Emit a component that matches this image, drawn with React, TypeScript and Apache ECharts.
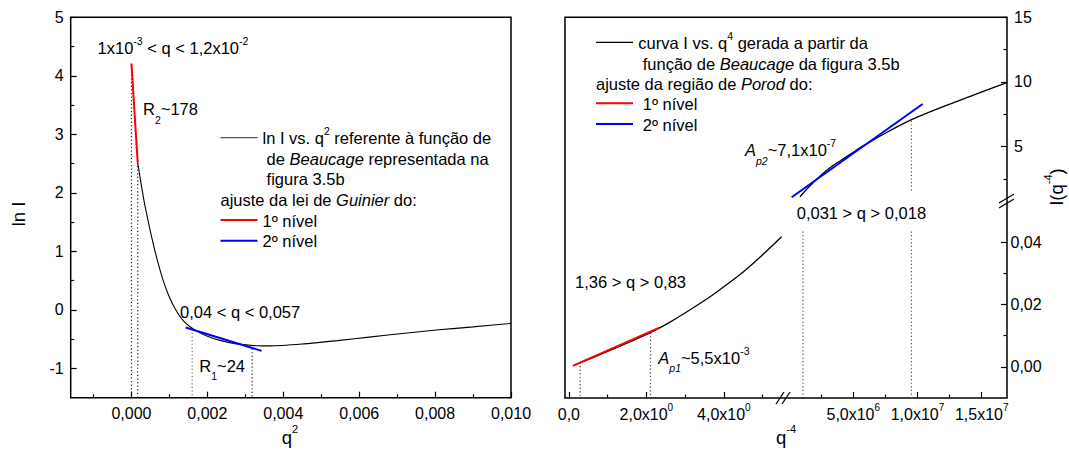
import React, { useEffect, useRef } from "react";
import * as echarts from "echarts";

const FONT = "'Liberation Sans', Arial, Helvetica, sans-serif";

// ---- Guinier plot: ln I vs q² ----
const guinierQ2 = [0.000165, 0.000238, 0.000327, 0.000434, 0.000549, 0.000682, 0.000833, 0.000993, 0.00117, 0.00139, 0.00166, 0.00197, 0.00233, 0.00277, 0.0033, 0.00366, 0.00455, 0.00543, 0.00632, 0.0072, 0.0081, 0.009, 0.01];
const guinierLnI = [2.52, 2.22, 1.88, 1.54, 1.2, 0.85, 0.51, 0.23, 0.0, -0.2, -0.34, -0.44, -0.52, -0.58, -0.612, -0.615, -0.58, -0.525, -0.46, -0.4, -0.34, -0.29, -0.23];
const guinierLevel1Q2 = [0.000001, 0.000165];
const guinierLevel1LnI = [4.21, 2.52];
const guinierLevel2Q2 = [0.00143, 0.00343];
const guinierLevel2LnI = [-0.3, -0.7];
const guinierBoundQ2 = [0.000001, 0.000165, 0.0016, 0.00318];
const guinierBoundTop = [4.2, 2.52, -0.33, -0.66];
const guinierBoundColor = ["#222", "#222", "#777", "#222"];

const guinierXTicks = [0, 0.002, 0.004, 0.006, 0.008, 0.01];
const guinierXMinor = [-0.001, 0.001, 0.003, 0.005, 0.007, 0.009];
const guinierYTicks = [-1, 0, 1, 2, 3, 4, 5];
const guinierYMinor = [-0.5, 0.5, 1.5, 2.5, 3.5, 4.5];

// ---- Porod plot: I vs q⁻⁴ (broken axes) ----
const porodLowX = [0.28, 0.7, 1.2, 1.7, 2.085, 2.6, 3.2, 3.7, 4.07, 4.5, 4.93, 5.49];
const porodLowY = [0.0013, 0.0034, 0.006, 0.0087, 0.0109, 0.0143, 0.0189, 0.023, 0.0264, 0.0305, 0.0352, 0.0418];
const porodLevel1X = [0.1, 2.32];
const porodLevel1Y = [0.0003, 0.01254];
const porodHighX = [0.85e6, 1.5e6, 2.66e6, 3.5e6, 4.49e6, 5.5e6, 6.56e6, 7.6e6, 8.6e6, 9.67e6, 11.75e6, 14e6, 16.95e6];
const porodHighY = [1.13, 1.85, 2.94, 3.6, 4.23, 4.9, 5.52, 6.1, 6.63, 7.15, 8.0, 8.85, 9.95];
const porodLevel2X = [0.2e6, 10.4e6];
const porodLevel2Y = [1.09, 8.3];
const porodLowBoundX = [0.292, 2.107];
const porodLowBoundTop = [0.0014, 0.011];
const porodHighBoundX = [1.083e6, 9.53e6];

const lowXTicks = [0, 2, 4];
const lowXMinor = [1, 3, 5];
const highXTicks = [5e6, 1e7, 1.5e7];
const highXMinor = [2.5e6, 7.5e6, 1.25e7];
const lowYTicks = [0, 0.02, 0.04];
const lowYMinor = [0.01, 0.03];
const highYTicks = [5, 10, 15];
const highYMinor = [2.5, 7.5, 12.5];

const zip = (xs: number[], ys: number[]) => xs.map((x, i) => [x, ys[i]]);
const comma = (v: number, d: number) => v.toFixed(d).replace(".", ",");
const sci = (v: number) => {
  if (v === 0) return "{n|0,0}";
  const e = Math.floor(Math.log10(Math.abs(v)) + 1e-9);
  return `{n|${comma(v / Math.pow(10, e), 1)}x10}{s|${e}}`;
};

const tickRich = {
  n: { fontSize: 16, fontFamily: FONT, color: "#000", lineHeight: 24 },
  s: { fontSize: 10, fontFamily: FONT, color: "#000", lineHeight: 24, height: 10, verticalAlign: "top" },
};
const TICK = { color: "#000", width: 1.2 };

function axisPair(gridIndex: number, min: number, max: number, major: number[], minor: number[], formatter: (v: number) => string, position: string, margin: number) {
  const common = {
    type: "value", gridIndex, min, max, position,
    splitLine: { show: false },
    axisLine: { show: false, onZero: false },
  };
  return [
    {
      ...common,
      axisTick: { show: true, inside: true, length: 6, lineStyle: TICK, customValues: major },
      axisLabel: { show: true, customValues: major, formatter: (v: number) => formatter(v), margin, color: "#000", fontFamily: FONT, fontSize: 16, lineHeight: 24, rich: tickRich },
    },
    {
      ...common,
      axisTick: { show: true, inside: true, length: 3.5, lineStyle: TICK, customValues: minor },
      axisLabel: { show: false },
    },
  ];
}
const hidden = (gridIndex: number, min: number, max: number) => ({ type: "value", gridIndex, min, max, show: false, axisLine: { onZero: false } });

// axis ranges
const G_X: [number, number] = [-0.0016, 0.01];
const G_Y: [number, number] = [-1.5, 5];
const LOW_X: [number, number] = [-0.1, 5.5];
const HIGH_X: [number, number] = [-0.55e6, 16.97e6];
const LOW_Y: [number, number] = [-0.01, 0.0536];
const HIGH_Y: [number, number] = [0.88, 15];

// axis indices: x → 0/1 Guinier, 2/3 low q⁻⁴, 4/5 high q⁻⁴ (lower), 6 high q⁻⁴ (upper), 7 frame
//               y → 0/1 Guinier, 2 low I (left seg), 3/4 low I (right seg), 5/6 high I, 7 frame
const line = (xi: number, yi: number, data: number[][], color: string, width: number, extra: any = {}) => ({
  type: "line", xAxisIndex: xi, yAxisIndex: yi, data, symbol: "none", showSymbol: false, silent: true,
  lineStyle: { color, width, ...(extra.lineStyle || {}) }, itemStyle: { color },
  smooth: extra.smooth || false, z: extra.z || 3,
});
const dotted = (xi: number, yi: number, x: number, y0: number, y1: number, color = "#333") =>
  line(xi, yi, [[x, y0], [x, y1]], color, 1.2, { lineStyle: { type: [1.2, 2.4] }, z: 2 });

// annotation text styles
const annRich = {
  b: { fontSize: 16.5, fontFamily: FONT, fill: "#000", lineHeight: 32 },
  i: { fontSize: 16.5, fontFamily: FONT, fontStyle: "italic", fill: "#000", lineHeight: 32 },
  sup: { fontSize: 10.5, fontFamily: FONT, fill: "#000", lineHeight: 32, height: 18, verticalAlign: "top" },
  sub: { fontSize: 10.5, fontFamily: FONT, fill: "#000", lineHeight: 32, verticalAlign: "bottom" },
  subi: { fontSize: 10.5, fontFamily: FONT, fontStyle: "italic", fill: "#000", lineHeight: 32, verticalAlign: "bottom" },
  t: { fontSize: 18.5, fontFamily: FONT, fill: "#000", lineHeight: 32 },
  ts: { fontSize: 11, fontFamily: FONT, fill: "#000", lineHeight: 32, height: 16, verticalAlign: "top" },
};
const txt = (x: number, y: number, text: string, align = "left", rotation = 0) => ({
  type: "text", x, y, rotation, silent: true, z: 10,
  style: { text, x: 0, y: 0, align, verticalAlign: "middle", rich: annRich, fontFamily: FONT, fontSize: 16.5, fill: "#000" },
});
const seg = (x1: number, y1: number, x2: number, y2: number, stroke: string, lineWidth: number) => ({
  type: "line", silent: true, z: 10, shape: { x1, y1, x2, y2 }, style: { stroke, lineWidth },
});

const xAxes = [
  ...axisPair(0, G_X[0], G_X[1], guinierXTicks, guinierXMinor, (v) => `{n|${comma(v, 3)}}`, "bottom", 4),
  ...axisPair(1, LOW_X[0], LOW_X[1], lowXTicks, lowXMinor, sci, "bottom", 4),
  ...axisPair(2, HIGH_X[0], HIGH_X[1], highXTicks, highXMinor, sci, "bottom", 4),
  hidden(3, HIGH_X[0], HIGH_X[1]),
  hidden(4, 0, 1),
];
const yAxes = [
  ...axisPair(0, G_Y[0], G_Y[1], guinierYTicks, guinierYMinor, (v) => `{n|${v}}`, "left", 7),
  hidden(1, LOW_Y[0], LOW_Y[1]),
  ...axisPair(2, LOW_Y[0], LOW_Y[1], lowYTicks, lowYMinor, (v) => `{n|${comma(v, 2)}}`, "right", 3.5),
  ...axisPair(3, HIGH_Y[0], HIGH_Y[1], highYTicks, highYMinor, (v) => `{n|${v}}`, "right", 7),
  hidden(4, 0, 1),
];

const FRAME = { show: true, borderColor: "#000", borderWidth: 1.5, backgroundColor: "transparent" };

const option: any = {
  animation: false,
  backgroundColor: "#fff",
  grid: [
    { left: 70.7, top: 17.3, width: 440.3, height: 380.4, ...FRAME },
    { left: 565, top: 200, width: 217, height: 198 },
    { left: 782, top: 200, width: 225, height: 198 },
    { left: 782, top: 17.3, width: 225, height: 182.7 },
    { left: 565, top: 17.3, width: 442, height: 380.7, ...FRAME },
  ],
  xAxis: xAxes,
  yAxis: yAxes,
  series: [
    // Guinier panel
    ...guinierBoundQ2.map((q, i) => dotted(0, 0, q, guinierBoundTop[i], G_Y[0], guinierBoundColor[i])),
    line(0, 0, zip(guinierQ2, guinierLnI), "#000", 1.1, { smooth: 0.25 }),
    line(0, 0, zip(guinierLevel1Q2, guinierLevel1LnI), "#ff0000", 2, { z: 4 }),
    line(0, 0, zip(guinierLevel2Q2, guinierLevel2LnI), "#0000ff", 2, { z: 4 }),
    // Porod panel, low q⁻⁴ segment
    ...porodLowBoundX.map((x, i) => dotted(2, 2, x, porodLowBoundTop[i], LOW_Y[0], "#444")),
    line(2, 2, zip(porodLowX, porodLowY), "#000", 1.3, { smooth: 0.3 }),
    line(2, 2, zip(porodLevel1X, porodLevel1Y), "#ff0000", 2, { z: 4 }),
    // Porod panel, high q⁻⁴ segment
    ...porodHighBoundX.map((x) => dotted(4, 3, x, 0.0435, LOW_Y[0], "#555")),
    dotted(6, 5, porodHighBoundX[1], 7.0, 1.5, "#555"),
    line(6, 5, zip(porodHighX, porodHighY), "#000", 1.3, { smooth: 0.3 }),
    line(6, 5, zip(porodLevel2X, porodLevel2Y), "#0000ff", 2, { z: 4 }),
  ],
  graphic: [
    // Guinier annotations
    txt(97.6, 47.5, "{b|1x10}{sup|-3}{b| < q < 1,2x10}{sup|-2}"),
    txt(143, 109, "{b|R}{sub|2}{b|~178}"),
    seg(220.5, 137.7, 257.5, 137.7, "#555", 1.3),
    txt(262.5, 138, "{b|ln I vs. q}{sup|2}{b| referente à função de}"),
    txt(266.6, 158.5, "{b|de }{i|Beaucage}{b| representada na}"),
    txt(266.6, 179, "{b|figura 3.5b}"),
    txt(220.5, 200, "{b|ajuste da lei de }{i|Guinier}{b| do:}"),
    seg(220.5, 220, 257.5, 220, "#ff0000", 2),
    txt(262.5, 220.5, "{b|1º nível}"),
    seg(220.5, 240.7, 257.5, 240.7, "#0000ff", 2),
    txt(262.5, 241, "{b|2º nível}"),
    txt(180, 311.7, "{b|0,04 < q < 0,057}"),
    txt(199.3, 365.7, "{b|R}{sub|1}{b|~24}"),
    txt(18, 214, "{t|ln I}", "center", Math.PI / 2),
    txt(290, 437, "{t|q}{ts|2}", "center"),
    // Porod annotations
    seg(596, 42.3, 633, 42.3, "#000", 1.3),
    txt(638.3, 42.5, "{b|curva I vs. q}{sup|4}{b| gerada a partir da}"),
    txt(642.7, 63.5, "{b|função de }{i|Beaucage}{b| da figura 3.5b}"),
    txt(596, 84, "{b|ajuste da região de }{i|Porod}{b| do:}"),
    seg(596, 103.3, 633, 103.3, "#ff0000", 2),
    txt(642.7, 104, "{b|1º nível}"),
    seg(596, 124, 633, 124, "#0000ff", 2),
    txt(642.7, 124.5, "{b|2º nível}"),
    txt(745, 150, "{i|A}{subi|p2}{b|~7,1x10}{sup|-7}"),
    txt(796.7, 213.3, "{b|0,031 > q > 0,018}"),
    txt(575, 282.3, "{b|1,36 > q > 0,83}"),
    txt(658.3, 357.5, "{i|A}{subi|p1}{b|~5,5x10}{sup|-3}"),
    txt(786, 437, "{t|q}{ts|-4}", "center"),
    txt(1056, 187, "{t|I(q}{ts|-4}{t|)}", "center", Math.PI / 2),
    // axis break marks
    seg(776, 404, 784, 392, "#000", 1.3),
    seg(782, 404, 790, 392, "#000", 1.3),
    seg(999, 203, 1014, 194, "#000", 1.3),
    seg(999, 208, 1014, 199, "#000", 1.3),
  ],
};

export default function App() {
  const ref = useRef<HTMLDivElement>(null);
  useEffect(() => {
    const chart = echarts.init(ref.current!, null, { renderer: "svg" });
    chart.setOption(option);
    return () => chart.dispose();
  }, []);
  return (
    <div
      ref={ref}
      style={{ position: "absolute", left: 0, top: 0, width: 1069, height: 450, background: "#fff" }}
    />
  );
}
